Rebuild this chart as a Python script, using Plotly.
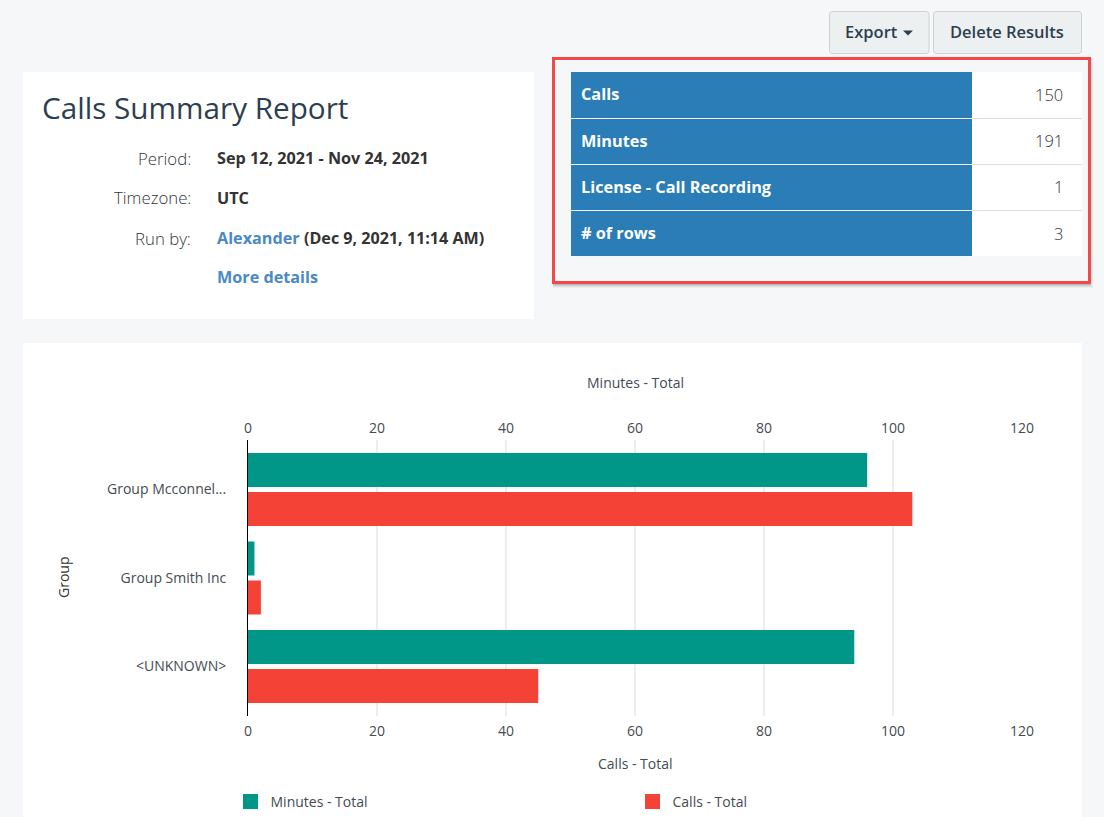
import plotly.graph_objects as go

# Chart data
groups = ["Group Mcconnel...", "Group Smith Inc", "&lt;UNKNOWN&gt;"]
minutes_total = [96, 1, 94]
calls_total = [103, 2, 45]
x_ticks = [0, 20, 40, 60, 80, 100, 120]

# Summary table
summary_labels = ["Calls", "Minutes", "License - Call Recording", "# of rows"]
summary_values = ["150", "191", "1", "3"]

# Report text
report_title = "Calls Summary Report"
meta_labels = ["Period:", "Timezone:", "Run by:"]

W, H = 1104, 817
L, R, T, B = 248, 1022, 440, 716
FONT = "Open Sans"
PAGE = "#f6f7f9"
TEAL = "#009688"
RED = "#f44336"
BLUE = "#2a7db6"
TEXT = "#444b52"
CHART_SIZE = 14


def px(x):
    return (x - L) / (R - L)


def py(y):
    return (B - y) / (B - T)


shapes, annotations = [], []


def rect(x0, y0, x1, y1, fill="rgba(0,0,0,0)", line=None, lw=0, layer="below"):
    shapes.append(dict(type="rect", xref="paper", yref="paper",
                       x0=px(x0), x1=px(x1), y0=py(y1), y1=py(y0),
                       fillcolor=fill, layer=layer,
                       line=dict(color=line or "rgba(0,0,0,0)", width=lw)))


def round_rect(x0, y0, x1, y1, r, fill, line):
    pts = [
        f"M {px(x0 + r)} {py(y0)}", f"L {px(x1 - r)} {py(y0)}",
        f"Q {px(x1)} {py(y0)} {px(x1)} {py(y0 + r)}", f"L {px(x1)} {py(y1 - r)}",
        f"Q {px(x1)} {py(y1)} {px(x1 - r)} {py(y1)}", f"L {px(x0 + r)} {py(y1)}",
        f"Q {px(x0)} {py(y1)} {px(x0)} {py(y1 - r)}", f"L {px(x0)} {py(y0 + r)}",
        f"Q {px(x0)} {py(y0)} {px(x0 + r)} {py(y0)}", "Z",
    ]
    shapes.append(dict(type="path", xref="paper", yref="paper", layer="below",
                       path=" ".join(pts), fillcolor=fill,
                       line=dict(color=line, width=1)))


def text(x, y, s, size=16, color=TEXT, anchor="left", **font):
    shift = {"left": -1, "right": 1, "center": 0}[anchor]
    annotations.append(dict(xref="paper", yref="paper", x=px(x), y=py(y), text=s,
                            showarrow=False, xanchor=anchor, yanchor="middle",
                            xshift=shift, borderpad=0,
                            font=dict(family=FONT, size=size, color=color, **font)))


# Cards
rect(23, 72, 534, 319, fill="#ffffff")
rect(23, 343, 1082, 830, fill="#ffffff")

# Buttons
for x0, x1 in [(829.5, 929), (933.5, 1081.5)]:
    round_rect(x0, 11.5, x1, 53.5, 3, "#ecf0f1", "#cdd2d4")
text(845, 31.6, "Export", 16.5, "#2c3e50", weight=600)
text(950, 31.6, "Delete Results", 16.5, "#2c3e50", weight=600)
shapes.append(dict(type="path", xref="paper", yref="paper", layer="below",
                   path=f"M {px(903)} {py(30.5)} L {px(913)} {py(30.5)} L {px(908)} {py(35.5)} Z",
                   fillcolor="#2c3e50", line=dict(width=0)))

# Red highlight box with soft shadow
for off, alpha in [(5, 0.04), (4, 0.06), (3, 0.08), (2, 0.10)]:
    rect(553, 58, 1090 + off - 2, 283 + off, fill=f"rgba(0,0,0,{alpha})")
rect(553, 58, 1090, 283, fill=PAGE)
rect(553.5, 58.5, 1089.5, 282.5, line="#f44848", lw=3)

# Summary table
row_tops = [72, 119, 165, 211]
row_bottoms = [118, 164, 210, 256]
label_nudge = [-1, -1, -1, 0]
rect(972, 72, 1082, 256, fill="#ffffff")
for top, bottom, nudge, label, value in zip(row_tops, row_bottoms, label_nudge, summary_labels, summary_values):
    rect(571, top, 972, bottom, fill=BLUE)
    mid = (top + bottom) / 2 + nudge
    text(581, mid, label, 16.3, "#ffffff", weight=700)
    text(1063, mid, value, 16.5, "#2f343a", anchor="right", weight=300)
for y in row_bottoms[:-1]:
    rect(972, y, 1082, y + 1, fill="#dddddd")

# Report details
text(42, 107, report_title, 29.7, "#2c3e50")
for y, label in zip([158, 197.5, 238], meta_labels):
    text(191, y, label, 16.8, "#2f343a", anchor="right", weight=300)
text(217, 158, "Sep 12, 2021 - Nov 24, 2021", 16.2, "#333333", weight=700)
text(217, 198, "UTC", 16.2, "#333333", weight=700)
text(217, 238, "Alexander", 16.2, "#4a89c8", weight=700)
text(303.5, 238, "(Dec 9, 2021, 11:14 AM)", 16.1, "#333333", weight=700)
text(217, 277, "More details", 16.2, "#4a89c8", weight=700)

# Axis titles drawn in page position
text(635, 382, "Minutes - Total", CHART_SIZE, TEXT, anchor="center")
text(635, 763, "Calls - Total", CHART_SIZE, TEXT, anchor="center")
annotations.append(dict(xref="paper", yref="paper", x=px(63), y=py(578), text="Group",
                        textangle=-90, showarrow=False, xanchor="center", yanchor="middle",
                        font=dict(family=FONT, size=CHART_SIZE, color="#333333")))

fig = go.Figure()
fig.add_bar(y=groups, x=minutes_total, orientation="h", name="Minutes - Total",
            marker=dict(color=TEAL, line=dict(width=0)), showlegend=False)
fig.add_bar(y=groups, x=calls_total, orientation="h", name="Calls - Total",
            marker=dict(color=RED, line=dict(width=0)), showlegend=False)
# Legend keys (square swatches); the top axis hangs off them too
fig.add_scatter(x=[None], y=[None], xaxis="x2", mode="markers", name="Minutes - Total",
                marker=dict(symbol="square", size=15, color=TEAL))
fig.add_scatter(x=[None], y=[None], xaxis="x2", mode="markers", name="Calls - Total",
                marker=dict(symbol="square", size=15, color=RED))

axis_common = dict(range=[0, 120], tickvals=x_ticks, showline=False, zeroline=False,
                   tickfont=dict(family=FONT, size=CHART_SIZE, color=TEXT))
fig.update_layout(
    width=W, height=H, autosize=False,
    margin=dict(l=L, r=W - R, t=T, b=H - B, pad=0, autoexpand=False),
    paper_bgcolor=PAGE, plot_bgcolor="rgba(0,0,0,0)",
    barmode="group", bargap=0.119, bargroupgap=0.128,
    font=dict(family=FONT, size=CHART_SIZE, color=TEXT),
    xaxis=dict(**axis_common, side="bottom", showgrid=True, gridcolor="#ededed", gridwidth=2,
               ticks="outside", ticklen=2, tickcolor="rgba(0,0,0,0)"),
    xaxis2=dict(**axis_common, side="top", overlaying="x", showgrid=False,
                ticks="outside", ticklen=0, tickcolor="rgba(0,0,0,0)"),
    yaxis=dict(type="category", range=[2.559, -0.559], showgrid=False, zeroline=False,
               showline=True, linecolor="#000000", linewidth=1,
               ticks="outside", ticklen=18, tickcolor="rgba(0,0,0,0)",
               tickfont=dict(family=FONT, size=CHART_SIZE, color=TEXT)),
    legend=dict(orientation="h", x=px(230.5), y=py(802), xanchor="left", yanchor="middle",
                entrywidth=357, entrywidthmode="pixels", itemclick=False, itemdoubleclick=False,
                bgcolor="rgba(0,0,0,0)", font=dict(family=FONT, size=CHART_SIZE, color=TEXT)),
    shapes=shapes, annotations=annotations,
)

fig.write_html("out.html", config=dict(displayModeBar=False),
               post_script="document.body.style.margin='0';document.body.style.overflow='hidden';")
